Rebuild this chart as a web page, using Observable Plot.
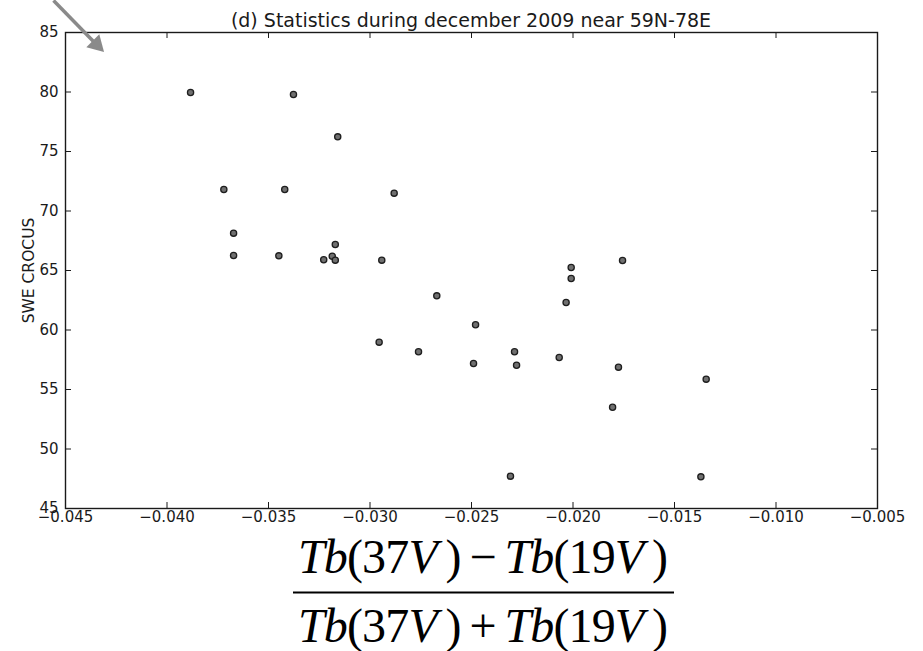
<!DOCTYPE html>
<html>
<head>
<meta charset="utf-8">
<script src="https://cdn.jsdelivr.net/npm/d3@7"></script>
<script src="https://cdn.jsdelivr.net/npm/@observablehq/plot@0.6"></script>
<style>
  body { margin: 0; background: #fff; }
  #wrap { position: relative; width: 923px; height: 651px; overflow: hidden; font-family: "DejaVu Sans", sans-serif; background: #fff; }
  #chart { position: absolute; left: 0; top: 0; }
  #title { position: absolute; left: 65px; width: 812px; top: 11px; text-align: center; font-size: 19px; line-height: 19px; color: #1a1a1a; white-space: nowrap; }
  #formula { position: absolute; left: 245px; top: 522px; width: 447px; height: 129px; background: #fff; }
</style>
</head>
<body>
<div id="wrap">
  <div id="chart"></div>
  <div id="title"></div>
  <div id="formula"></div>
</div>
<script>
// ---- data ----
const titleText = "(d) Statistics during december 2009 near 59N-78E";
const yLabelText = "SWE CROCUS";

const xValues = [-0.03884, -0.03377, -0.03159, -0.03720, -0.03420, -0.02881, -0.03672, -0.03672,
                 -0.03449, -0.03171, -0.03228, -0.03186, -0.03171, -0.02942, -0.02671, -0.02955,
                 -0.02761, -0.02480, -0.02490, -0.02288, -0.02278, -0.02308, -0.02068, -0.02009,
                 -0.02009, -0.02034, -0.01756, -0.01776, -0.01805, -0.01344, -0.01370];
const yValues = [79.96, 79.79, 76.23, 71.81, 71.81, 71.50, 68.14, 66.26,
                 66.23, 67.18, 65.90, 66.20, 65.87, 65.87, 62.87, 58.98,
                 58.17, 60.44, 57.18, 58.17, 57.04, 47.72, 57.69, 65.25,
                 64.33, 62.31, 65.84, 56.88, 53.51, 55.87, 47.66];

const xTicks = [-0.045, -0.040, -0.035, -0.030, -0.025, -0.020, -0.015, -0.010, -0.005];
const yTicks = [45, 50, 55, 60, 65, 70, 75, 80, 85];

// annotation arrow (data units)
const arrowShaftX = [-0.04559, -0.04362];
const arrowShaftY = [87.69, 84.24];
const arrowHeadX = [-0.04347];
const arrowHeadY = [83.99];

// formula pieces
const formulaNumerator = ["Tb", "(37", "V", "\u2009)\u2009\u2212\u2009", "Tb", "(19", "V", "\u2009)"];
const formulaDenominator = ["Tb", "(37", "V", "\u2009)\u2009+\u2009", "Tb", "(19", "V", "\u2009)"];
const formulaItalic = [true, false, true, false, true, false, true, false];

// ---- build ----
const points = xValues.map((x, i) => ({x, y: yValues[i]}));
const shaft = [{x1: arrowShaftX[0], y1: arrowShaftY[0], x2: arrowShaftX[1], y2: arrowShaftY[1]}];
const head = arrowHeadX.map((x, i) => ({x, y: arrowHeadY[i]}));

const W = 923, H = 540, mT = 32, mR = 46, mB = 32, mL = 65;
const innerW = W - mL - mR, innerH = H - mT - mB;
const tickLen = 6;
const ink = "#1a1a1a";

const chart = Plot.plot({
  width: W, height: H,
  marginTop: mT, marginRight: mR, marginBottom: mB, marginLeft: mL,
  style: {fontFamily: "DejaVu Sans, sans-serif", fontSize: "15px", color: ink, background: "transparent", overflow: "visible"},
  x: {domain: [-0.045, -0.005]},
  y: {domain: [45, 85]},
  marks: [
    Plot.tickX(xTicks, {x: d => d, insetTop: innerH - tickLen, stroke: ink, strokeWidth: 1}),
    Plot.tickX(xTicks, {x: d => d, insetBottom: innerH - tickLen, stroke: ink, strokeWidth: 1}),
    Plot.tickY(yTicks, {y: d => d, insetRight: innerW - tickLen, stroke: ink, strokeWidth: 1}),
    Plot.tickY(yTicks, {y: d => d, insetLeft: innerW - tickLen, stroke: ink, strokeWidth: 1}),
    Plot.frame({stroke: ink, strokeWidth: 1.4}),
    Plot.axisX({ticks: xTicks, tickSize: 0, tickPadding: 3, tickFormat: d3.format(".3f"), label: null, fill: ink, fontSize: 15}),
    Plot.axisY({ticks: yTicks, tickSize: 0, tickPadding: 7, tickFormat: d3.format("d"), label: null, fill: ink, fontSize: 15}),
    Plot.text([yLabelText], {text: d => d, frameAnchor: "left", textAnchor: "middle", rotate: -90, dx: -36, fontSize: 15.5, fill: ink}),
    Plot.dot(points, {x: "x", y: "y", r: 3.1, fill: "#707070", stroke: "#1e1e1e", strokeWidth: 1.3}),
    Plot.link(shaft, {x1: "x1", y1: "y1", x2: "x2", y2: "y2", stroke: "#8a8a8a", strokeWidth: 3.5}),
    Plot.dot(head, {x: "x", y: "y", symbol: "triangle", r: 6.8, fill: "#8a8a8a", stroke: "none", rotate: 135})
  ]
});
document.getElementById("chart").appendChild(chart);
document.getElementById("title").textContent = titleText;

// formula as an inline SVG of real text
const NS = "http://www.w3.org/2000/svg";
const fsvg = document.createElementNS(NS, "svg");
fsvg.setAttribute("width", 447);
fsvg.setAttribute("height", 129);
function addLine(parts, baseline) {
  const t = document.createElementNS(NS, "text");
  t.setAttribute("x", 238);
  t.setAttribute("y", baseline);
  t.setAttribute("text-anchor", "middle");
  t.setAttribute("font-family", "Liberation Serif, Times New Roman, serif");
  t.setAttribute("font-size", 48);
  t.setAttribute("fill", "#000");
  t.setAttribute("textLength", 370);
  t.setAttribute("lengthAdjust", "spacing");
  t.setAttribute("xml:space", "preserve");
  parts.forEach((p, i) => {
    const s = document.createElementNS(NS, "tspan");
    if (formulaItalic[i]) s.setAttribute("font-style", "italic");
    s.textContent = p;
    t.appendChild(s);
  });
  fsvg.appendChild(t);
}
addLine(formulaNumerator, 51);
const bar = document.createElementNS(NS, "line");
bar.setAttribute("x1", 48); bar.setAttribute("x2", 429);
bar.setAttribute("y1", 70.5); bar.setAttribute("y2", 70.5);
bar.setAttribute("stroke", "#000"); bar.setAttribute("stroke-width", 2.2);
fsvg.appendChild(bar);
addLine(formulaDenominator, 120);
document.getElementById("formula").appendChild(fsvg);
</script>
</body>
</html>
